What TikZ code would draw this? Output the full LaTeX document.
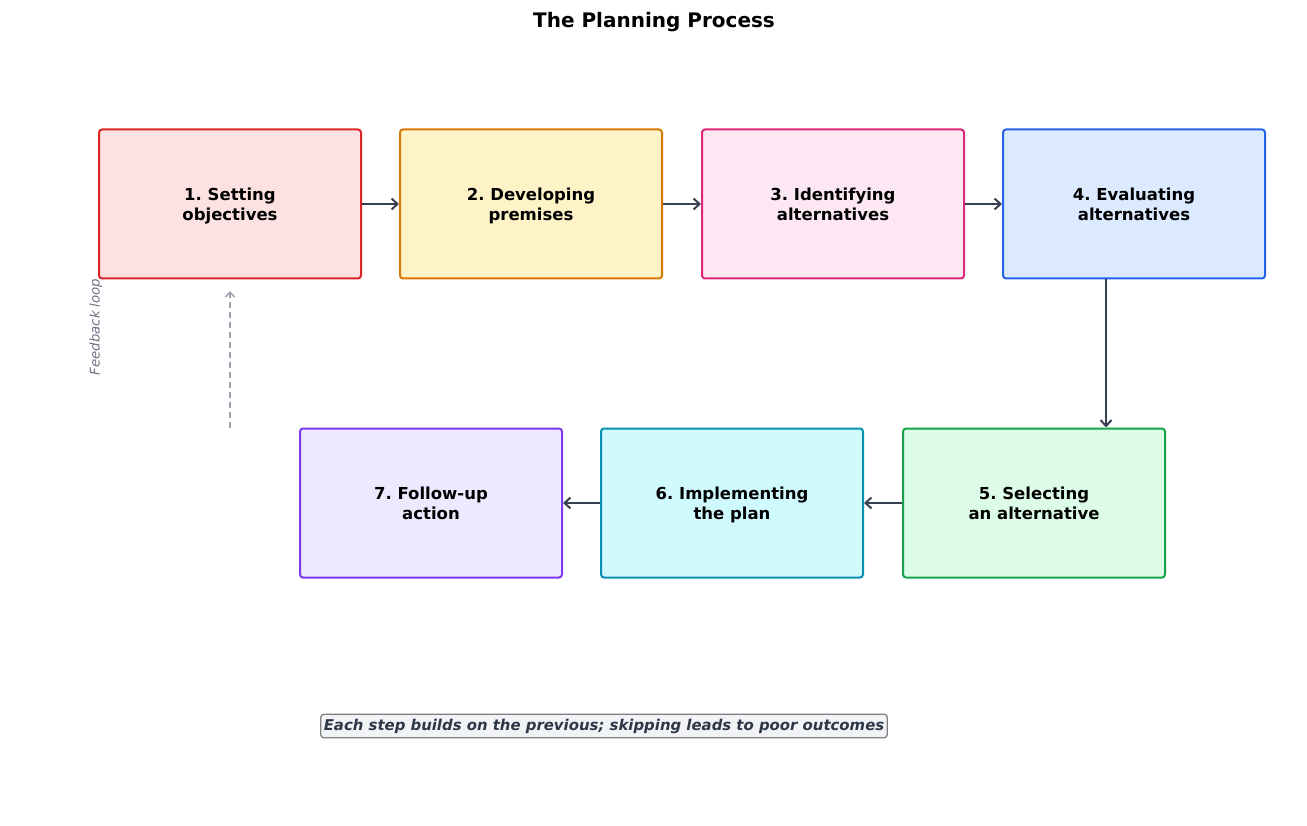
\documentclass[tikz,border=0pt]{standalone}
\usepackage{fontspec}
\setmainfont{DejaVu Sans}
\usetikzlibrary{arrows.meta,calc}
\frenchspacing
\newcommand{\twolines}[2]{\rule{0pt}{\dimexpr0.7\baselineskip+5pt\relax}#1\\#2\strut}
\definecolor{f1}{HTML}{FEE2E2}\definecolor{d1}{HTML}{DC2626}
\definecolor{f2}{HTML}{FEF3C7}\definecolor{d2}{HTML}{D97706}
\definecolor{f3}{HTML}{FCE7F3}\definecolor{d3}{HTML}{DB2777}
\definecolor{f4}{HTML}{DBEAFE}\definecolor{d4}{HTML}{2563EB}
\definecolor{f5}{HTML}{DCFCE7}\definecolor{d5}{HTML}{16A34A}
\definecolor{f6}{HTML}{CFFAFE}\definecolor{d6}{HTML}{0891B2}
\definecolor{f7}{HTML}{EDE9FE}\definecolor{d7}{HTML}{7C3AED}
\definecolor{arrc}{HTML}{374151}
\definecolor{fbc}{HTML}{9CA3AF}
\definecolor{fbt}{HTML}{6B7280}
\definecolor{notec}{HTML}{2D3748}
\definecolor{notef}{HTML}{F1F3F6}
\tikzset{
  stepbox/.style={draw, line width=2pt, rounded corners=3pt, minimum width=262pt, minimum height=149pt, inner sep=0pt, align=center, font=\fontsize{16.5}{20.5}\selectfont\bfseries, text=black},
  arr/.style={draw=arrc, line width=2pt, -{Straight Barb[length=6pt,width=11pt,line width=2pt]}},
  fb/.style={draw=fbc, line width=1.6pt, dash pattern=on 6pt off 4pt, -{Straight Barb[length=5pt,width=9pt,line width=1.5pt]}}
}
\begin{document}
\begin{tikzpicture}[x=1pt,y=-1pt]
\useasboundingbox (0,0) rectangle (1307,826);
\node[font=\fontsize{20}{24}\selectfont\bfseries] (title) at (654,22) {The Planning Process};
\node[stepbox, fill=f1, draw=d1] (n1) at (230,204) {\twolines{1. Setting}{objectives}};
\node[stepbox, fill=f2, draw=d2] (n2) at (531,204) {\twolines{2. Developing}{premises}};
\node[stepbox, fill=f3, draw=d3] (n3) at (833,204) {\twolines{3. Identifying}{alternatives}};
\node[stepbox, fill=f4, draw=d4] (n4) at (1134,204) {\twolines{4. Evaluating}{alternatives}};
\node[stepbox, fill=f5, draw=d5] (n5) at (1034,503) {\twolines{5. Selecting}{an alternative}};
\node[stepbox, fill=f6, draw=d6] (n6) at (732,503) {\twolines{6. Implementing}{the plan}};
\node[stepbox, fill=f7, draw=d7] (n7) at (431,503) {\twolines{7. Follow-up}{action}};
\draw[arr] (n1) -- (n2);
\draw[arr] (n2) -- (n3);
\draw[arr] (n3) -- (n4);
\draw[arr] ([xshift=-28pt]n4.south) -- ([xshift=72pt]n5.north);
\draw[arr] (n5) -- (n6);
\draw[arr] (n6) -- (n7);
\coordinate (fbs) at (230,428);
\coordinate (fbe) at (230,291);
\draw[fb] (fbs) -- (fbe);
\node[rotate=90, text=fbt, font=\fontsize{13.3}{15}\selectfont\itshape] (fbl) at (96,327) {Feedback loop};
\node[draw=gray, line width=1.3pt, fill=notef, rounded corners=3pt, inner xsep=3pt, inner ysep=4.5pt, text=notec, font=\fontsize{14.9}{17}\selectfont\bfseries\itshape] (note) at (604,726) {Each step builds on the previous; skipping leads to poor outcomes};
\end{tikzpicture}
\end{document}
